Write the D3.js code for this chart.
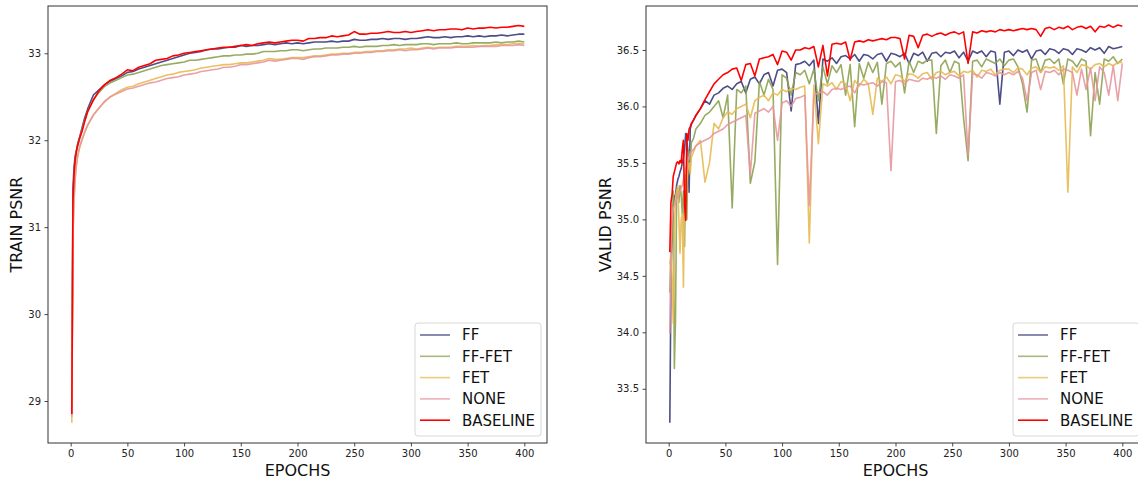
<!DOCTYPE html>
<html>
<head>
<meta charset="utf-8">
<script src="https://cdn.jsdelivr.net/npm/d3@7"></script>
<style>
  body { margin: 0; background: #fff; }
  svg { font-family: "DejaVu Sans", sans-serif; }
</style>
</head>
<body>
<div id="chart"></div>
<script>
// series names and colours (legend order)
const seriesNames = ["FF", "FF-FET", "FET", "NONE", "BASELINE"];
const seriesColors = ["#393b79", "#8ca252", "#e7ba52", "#e7969c", "#ff0000"];

const xTicks = [0, 50, 100, 150, 200, 250, 300, 350, 400];
const trainTicks = [29, 30, 31, 32, 33];
const validTicks = [33.5, 34.0, 34.5, 35.0, 35.5, 36.0, 36.5];

// train psnr
const trainEpochs = [
  1, 2, 3, 4, 5, 6, 8, 10, 12, 15,
  20, 25, 30, 35, 40, 45, 50, 55, 60, 65,
  70, 75, 80, 85, 90, 95, 100, 105, 110, 115,
  120, 125, 130, 135, 140, 145, 150, 155, 160, 165,
  170, 175, 180, 185, 190, 195, 200, 205, 210, 215,
  220, 225, 230, 235, 240, 245, 250, 255, 260, 265,
  270, 275, 280, 285, 290, 295, 300, 305, 310, 315,
  320, 325, 330, 335, 340, 345, 350, 355, 360, 365,
  370, 375, 380, 385, 390, 395, 400
];
const trainFF = [
  28.86, 31.45, 31.70, 31.82, 31.88, 31.95, 32.04, 32.14, 32.24, 32.36,
  32.52, 32.58, 32.64, 32.68, 32.71, 32.74, 32.78, 32.79, 32.82, 32.84,
  32.86, 32.88, 32.90, 32.92, 32.94, 32.96, 32.98, 33.00, 33.01, 33.02,
  33.04, 33.05, 33.05, 33.06, 33.07, 33.07, 33.09, 33.08, 33.09, 33.09,
  33.10, 33.11, 33.10, 33.11, 33.12, 33.11, 33.12, 33.11, 33.12, 33.13,
  33.13, 33.13, 33.14, 33.13, 33.14, 33.14, 33.16, 33.15, 33.15, 33.16,
  33.16, 33.17, 33.16, 33.17, 33.17, 33.16, 33.17, 33.17, 33.18, 33.19,
  33.18, 33.18, 33.19, 33.18, 33.19, 33.19, 33.20, 33.19, 33.20, 33.19,
  33.20, 33.20, 33.21, 33.20, 33.21, 33.22, 33.22
];
const trainFFFET = [
  28.87, 31.20, 31.60, 31.77, 31.86, 31.93, 32.02, 32.12, 32.21, 32.33,
  32.47, 32.55, 32.62, 32.66, 32.69, 32.72, 32.75, 32.76, 32.78, 32.80,
  32.82, 32.84, 32.86, 32.87, 32.88, 32.89, 32.90, 32.92, 32.92, 32.93,
  32.94, 32.95, 32.96, 32.97, 32.97, 32.98, 32.98, 32.99, 32.99, 33.00,
  33.02, 33.02, 33.02, 33.03, 33.03, 33.04, 33.04, 33.03, 33.04, 33.05,
  33.05, 33.06, 33.06, 33.06, 33.07, 33.07, 33.08, 33.07, 33.08, 33.08,
  33.08, 33.09, 33.09, 33.10, 33.09, 33.10, 33.10, 33.10, 33.11, 33.11,
  33.10, 33.11, 33.11, 33.11, 33.12, 33.11, 33.11, 33.12, 33.12, 33.12,
  33.12, 33.13, 33.12, 33.13, 33.13, 33.14, 33.13
];
const trainFET = [
  28.75, 30.90, 31.30, 31.55, 31.70, 31.80, 31.92, 32.00, 32.08, 32.18,
  32.29, 32.37, 32.44, 32.50, 32.54, 32.58, 32.61, 32.62, 32.65, 32.67,
  32.69, 32.71, 32.73, 32.75, 32.76, 32.78, 32.79, 32.80, 32.81, 32.83,
  32.84, 32.85, 32.86, 32.87, 32.87, 32.88, 32.89, 32.89, 32.90, 32.91,
  32.92, 32.94, 32.93, 32.93, 32.94, 32.95, 32.95, 32.95, 32.96, 32.97,
  32.97, 32.98, 32.99, 32.99, 33.00, 33.00, 33.01, 33.01, 33.02, 33.02,
  33.03, 33.03, 33.04, 33.04, 33.05, 33.05, 33.06, 33.05, 33.06, 33.07,
  33.06, 33.07, 33.07, 33.07, 33.08, 33.08, 33.08, 33.09, 33.08, 33.09,
  33.09, 33.10, 33.10, 33.10, 33.11, 33.11, 33.11
];
const trainNONE = [
  28.82, 30.95, 31.35, 31.58, 31.72, 31.81, 31.93, 32.01, 32.08, 32.17,
  32.29, 32.37, 32.45, 32.50, 32.53, 32.56, 32.59, 32.60, 32.62, 32.64,
  32.66, 32.67, 32.69, 32.71, 32.72, 32.73, 32.75, 32.76, 32.77, 32.79,
  32.80, 32.81, 32.82, 32.84, 32.84, 32.85, 32.87, 32.87, 32.88, 32.89,
  32.90, 32.92, 32.91, 32.92, 32.93, 32.94, 32.94, 32.93, 32.95, 32.96,
  32.96, 32.97, 32.98, 32.98, 32.99, 32.99, 33.00, 33.00, 33.01, 33.01,
  33.02, 33.02, 33.03, 33.03, 33.04, 33.03, 33.04, 33.04, 33.05, 33.06,
  33.05, 33.06, 33.06, 33.06, 33.07, 33.07, 33.07, 33.07, 33.08, 33.08,
  33.08, 33.08, 33.09, 33.09, 33.09, 33.10, 33.09
];
const trainBASELINE = [
  28.85, 31.30, 31.62, 31.78, 31.87, 31.93, 32.03, 32.10, 32.20, 32.33,
  32.46, 32.57, 32.64, 32.69, 32.72, 32.76, 32.81, 32.80, 32.84, 32.86,
  32.88, 32.92, 32.93, 32.94, 32.97, 32.98, 33.00, 33.01, 33.02, 33.03,
  33.04, 33.05, 33.06, 33.07, 33.07, 33.08, 33.09, 33.10, 33.09, 33.11,
  33.12, 33.13, 33.12, 33.13, 33.14, 33.15, 33.15, 33.14, 33.17, 33.17,
  33.18, 33.18, 33.20, 33.19, 33.20, 33.21, 33.25, 33.22, 33.22, 33.23,
  33.23, 33.24, 33.25, 33.24, 33.24, 33.25, 33.24, 33.25, 33.26, 33.27,
  33.26, 33.27, 33.27, 33.28, 33.28, 33.27, 33.29, 33.28, 33.29, 33.29,
  33.30, 33.29, 33.30, 33.30, 33.31, 33.32, 33.31
];

// valid psnr
const validEpochs = [
  1, 2, 3, 4, 5, 6, 7, 8, 9, 10,
  11, 12, 13, 14, 15, 16, 17, 18, 19, 20,
  22, 24, 28, 32, 36, 40, 44, 48, 52, 56,
  60, 64, 68, 72, 76, 80, 84, 88, 92, 96,
  100, 104, 108, 112, 116, 120, 124, 128, 132, 136,
  140, 144, 148, 152, 156, 160, 164, 168, 172, 176,
  180, 184, 188, 192, 196, 200, 204, 208, 212, 216,
  220, 224, 228, 232, 236, 240, 244, 248, 252, 256,
  260, 264, 268, 272, 276, 280, 284, 288, 292, 296,
  300, 304, 308, 312, 316, 320, 324, 328, 332, 336,
  340, 344, 348, 352, 356, 360, 364, 368, 372, 376,
  380, 384, 388, 392, 396, 400
];
const validFF = [
  33.20, 34.45, 34.90, 35.10, 35.20, 35.22, 35.30, 35.35, 35.38, 35.42,
  35.45, 35.50, 35.55, 35.62, 35.76, 35.70, 35.60, 35.24, 35.80, 35.84,
  35.88, 35.92, 35.98, 36.05, 36.02, 36.10, 36.12, 36.16, 36.18, 36.15,
  36.20, 36.22, 36.12, 36.24, 36.26, 36.20, 36.28, 36.30, 36.18, 36.32,
  36.33, 36.30, 35.96, 36.37, 36.38, 36.40, 36.36, 36.41, 35.85, 36.42,
  36.40, 36.43, 36.38, 36.44, 36.45, 36.42, 36.46, 36.40, 36.46, 36.45,
  36.42, 36.46, 36.47, 36.40, 36.47, 36.46, 36.44, 36.47, 36.38, 36.47,
  36.45, 36.48, 36.40, 36.47, 36.48, 36.44, 36.48, 36.47, 36.49, 36.43,
  36.48, 36.40, 36.49, 36.47, 36.49, 36.44, 36.49, 36.48, 36.02, 36.48,
  36.49, 36.45, 36.50, 36.48, 36.50, 36.42, 36.49, 36.50, 36.46, 36.51,
  36.50, 36.47, 36.51, 36.50, 36.46, 36.51, 36.50, 36.48, 36.52, 36.50,
  36.52, 36.47, 36.53, 36.51, 36.52, 36.53
];
const validFFFET = [
  34.35, 34.70, 34.90, 35.25, 33.68, 34.10, 35.20, 35.28, 35.15, 35.30,
  35.22, 35.05, 35.25, 34.76, 35.40, 35.00, 35.55, 35.60, 35.50, 35.68,
  35.72, 35.80, 35.85, 35.92, 35.95, 36.00, 36.05, 35.90, 36.10, 35.10,
  36.15, 36.12, 36.18, 35.32, 35.51, 36.22, 36.10, 36.24, 36.15, 34.60,
  36.28, 36.25, 36.10, 36.30, 36.28, 36.32, 36.20, 36.33, 36.05, 36.35,
  36.20, 36.36, 36.30, 36.37, 36.10, 36.37, 35.82, 36.38, 36.25, 36.39,
  36.30, 36.39, 36.02, 36.38, 36.40, 36.35, 36.39, 36.12, 36.40, 36.30,
  36.40, 36.38, 36.41, 36.41, 35.76, 36.36, 36.41, 36.30, 36.40, 36.38,
  35.90, 35.52, 36.40, 36.41, 36.35, 36.42, 36.40, 36.38, 36.42, 36.36,
  36.41, 36.42, 36.35, 36.20, 35.95, 36.41, 36.42, 36.30, 36.41, 36.42,
  36.38, 36.42, 36.20, 36.42, 36.40, 36.35, 36.42, 36.40, 35.74, 36.30,
  36.02, 36.42, 36.40, 36.44, 36.38, 36.42
];
const validFET = [
  34.60, 34.70, 34.50, 34.08, 34.90, 35.20, 35.25, 35.30, 35.00, 34.70,
  35.00, 35.05, 34.40, 35.20, 35.25, 35.35, 35.45, 35.50, 35.40, 35.55,
  35.60, 35.65, 35.70, 35.33, 35.50, 35.85, 35.80, 35.90, 35.95, 35.93,
  35.98, 36.00, 36.02, 35.90, 36.05, 36.08, 36.10, 36.05, 36.12, 36.10,
  36.15, 36.13, 36.16, 36.15, 36.17, 36.18, 34.79, 36.19, 35.67, 36.20,
  36.18, 36.21, 36.15, 36.22, 36.20, 36.05, 36.23, 36.18, 36.24, 36.20,
  35.93, 36.25, 36.22, 36.26, 36.20, 36.28, 36.27, 36.22, 36.29, 36.28,
  36.25, 36.29, 36.30, 36.24, 36.30, 36.31, 36.28, 36.30, 36.31, 36.27,
  36.31, 36.30, 36.32, 36.26, 36.32, 36.31, 36.33, 36.28, 36.32, 36.33,
  36.33, 36.30, 36.34, 36.33, 36.28, 36.34, 36.35, 36.30, 36.35, 36.34,
  36.35, 36.32, 36.36, 35.24, 36.35, 36.30, 36.37, 36.36, 36.33, 36.37,
  36.38, 36.35, 36.38, 36.36, 36.39, 36.39
];
const validNONE = [
  33.99, 34.80, 35.00, 35.10, 35.12, 35.15, 35.18, 35.20, 35.22, 35.25,
  35.28, 35.30, 35.35, 35.40, 35.45, 35.48, 35.52, 35.55, 35.58, 35.60,
  35.62, 35.65, 35.68, 35.70, 35.72, 35.76, 35.78, 35.80, 35.84, 35.86,
  35.88, 35.90, 35.92, 35.40, 35.94, 35.96, 35.98, 35.95, 36.00, 35.70,
  36.03, 36.05, 36.00, 36.07, 36.08, 36.10, 35.12, 36.10, 36.12, 36.13,
  36.10, 36.15, 36.16, 36.15, 36.17, 36.18, 36.12, 36.20, 36.19, 36.20,
  36.21, 36.18, 36.22, 36.21, 35.43, 36.22, 36.23, 36.20, 36.24, 36.23,
  36.22, 36.25, 36.24, 36.26, 36.25, 36.27, 36.24, 36.28, 36.27, 36.25,
  36.28, 35.57, 36.29, 36.28, 36.25, 36.30, 36.29, 36.27, 36.30, 36.28,
  36.30, 36.28, 36.31, 36.25, 36.05, 36.30, 36.32, 36.15, 36.31, 36.30,
  36.32, 36.28, 36.33, 36.32, 36.30, 36.10, 36.33, 36.15, 36.34, 36.05,
  36.35, 36.30, 36.10, 36.36, 36.05, 36.38
];
const validBASELINE = [
  34.71, 35.15, 35.22, 35.38, 35.42, 35.46, 35.50, 35.51, 35.49, 35.52,
  35.50, 35.62, 35.70, 35.12, 34.99, 35.76, 35.70, 35.80, 35.82, 35.85,
  35.88, 35.92, 35.98, 36.06, 36.13, 36.20, 36.24, 36.28, 36.30, 36.33,
  36.34, 36.23, 36.37, 36.38, 36.27, 36.42, 36.43, 36.44, 36.46, 36.37,
  36.49, 36.48, 36.41, 36.50, 36.50, 36.52, 36.51, 36.53, 36.35, 36.54,
  36.27, 36.55, 36.56, 36.55, 36.57, 36.41, 36.57, 36.58, 36.57, 36.59,
  36.58, 36.59, 36.60, 36.59, 36.61, 36.61, 36.60, 36.42, 36.63, 36.62,
  36.52, 36.63, 36.64, 36.62, 36.64, 36.65, 36.63, 36.65, 36.66, 36.64,
  36.66, 36.38, 36.66, 36.65, 36.67, 36.66, 36.67, 36.66, 36.68, 36.67,
  36.68, 36.67, 36.68, 36.69, 36.68, 36.69, 36.68, 36.62, 36.69, 36.70,
  36.68, 36.70, 36.69, 36.71, 36.68, 36.70, 36.71, 36.69, 36.71, 36.66,
  36.71, 36.70, 36.72, 36.70, 36.72, 36.71
];

const width = 1138;
const height = 480;

const svg = d3.select("#chart").append("svg")
  .attr("width", width)
  .attr("height", height);

function drawPanel(opts) {
  const { left, right, top, bottom, epochs, series, yDomain, yTicks, yFormat, yLabel, labelX } = opts;

  const x = d3.scaleLinear().domain([-20, 420]).range([left, right]);
  const y = d3.scaleLinear().domain(yDomain).range([bottom, top]);

  const clipId = "clip" + Math.round(left);
  svg.append("clipPath").attr("id", clipId)
    .append("rect")
    .attr("x", left).attr("y", top)
    .attr("width", right - left).attr("height", bottom - top);

  const line = d3.line()
    .x((d) => x(d[0]))
    .y((d) => y(d[1]));

  const g = svg.append("g").attr("clip-path", `url(#${clipId})`);
  series.forEach((vals, i) => {
    g.append("path")
      .datum(d3.zip(epochs, vals))
      .attr("fill", "none")
      .attr("stroke", seriesColors[i])
      .attr("stroke-opacity", i === 4 ? 1 : 0.9)
      .attr("stroke-width", 1.6)
      .attr("stroke-linejoin", "round")
      .attr("d", line);
  });

  // axes
  const xAxis = svg.append("g")
    .attr("transform", `translate(0,${bottom})`)
    .call(d3.axisBottom(x).tickValues(xTicks).tickSize(3.5).tickPadding(3.5).tickFormat(d3.format("d")));
  const yAxis = svg.append("g")
    .attr("transform", `translate(${left},0)`)
    .call(d3.axisLeft(y).tickValues(yTicks).tickSize(3.5).tickPadding(3.5).tickFormat(d3.format(yFormat)));
  [xAxis, yAxis].forEach((a) => {
    a.select(".domain").remove();
    a.selectAll(".tick line").attr("stroke", "#333").attr("stroke-width", 0.9);
    a.selectAll(".tick text").attr("fill", "#222").style("font-size", "10px")
      .style("font-family", "DejaVu Sans, sans-serif");
  });

  // frame
  svg.append("rect")
    .attr("x", left).attr("y", top)
    .attr("width", right - left).attr("height", bottom - top)
    .attr("fill", "none")
    .attr("stroke", "#333")
    .attr("stroke-width", 1);

  // labels
  svg.append("text")
    .attr("x", (left + right) / 2)
    .attr("y", 476)
    .attr("text-anchor", "middle")
    .attr("fill", "#111")
    .style("font-size", "16px")
    .text("EPOCHS");
  svg.append("text")
    .attr("transform", `translate(${labelX},${(top + bottom) / 2}) rotate(-90)`)
    .attr("text-anchor", "middle")
    .attr("fill", "#111")
    .style("font-size", "16px")
    .text(yLabel);

  // legend
  const lx = opts.legendX;
  const ly = 323;
  const legend = svg.append("g").attr("transform", `translate(${lx},${ly})`);
  legend.append("rect")
    .attr("width", 126).attr("height", 113)
    .attr("rx", 3)
    .attr("fill", "#fff").attr("fill-opacity", 0.85)
    .attr("stroke", "#d8d8d8");
  seriesNames.forEach((name, i) => {
    const yy = 12 + i * 21.3;
    legend.append("line")
      .attr("x1", 5).attr("x2", 35)
      .attr("y1", yy).attr("y2", yy)
      .attr("stroke", seriesColors[i])
      .attr("stroke-opacity", i === 4 ? 1 : 0.75)
      .attr("stroke-width", 1.6);
    legend.append("text")
      .attr("x", 47).attr("y", yy)
      .attr("dy", "0.36em")
      .attr("fill", "#111")
      .style("font-size", "15px")
      .text(name);
  });
}

drawPanel({
  left: 48, right: 547, top: 6, bottom: 443,
  epochs: trainEpochs,
  series: [trainFF, trainFFFET, trainFET, trainNONE, trainBASELINE],
  yDomain: [28.517, 33.544],
  yTicks: trainTicks,
  yFormat: "d",
  yLabel: "TRAIN PSNR",
  labelX: 22,
  legendX: 415
});

drawPanel({
  left: 646, right: 1145, top: 6, bottom: 443,
  epochs: validEpochs,
  series: [validFF, validFFFET, validFET, validNONE, validBASELINE],
  yDomain: [33.02, 36.889],
  yTicks: validTicks,
  yFormat: ".1f",
  yLabel: "VALID PSNR",
  labelX: 611,
  legendX: 1013
});
</script>
</body>
</html>
